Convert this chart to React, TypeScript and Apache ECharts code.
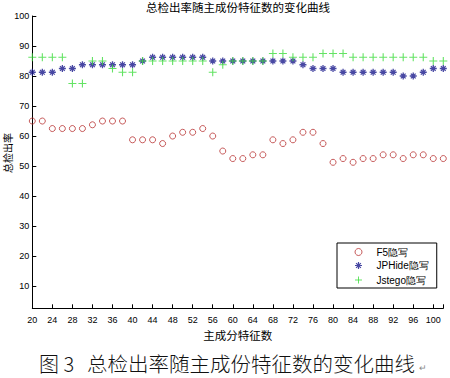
import React, { useEffect, useRef } from "react";
import * as echarts from "echarts";

// Number of principal-component features (x)
const featureCounts = [
  20, 22, 24, 26, 28, 30, 32, 34, 36, 38, 40, 42, 44, 46, 48, 50, 52, 54, 56, 58, 60,
  62, 64, 66, 68, 70, 72, 74, 76, 78, 80, 82, 84, 86, 88, 90, 92, 94, 96, 98, 100, 102,
];

// Overall detection rate (%) per steganography method
const f5Rates = [
  65, 65, 62.5, 62.5, 62.5, 62.5, 63.75, 65, 65, 65, 58.75, 58.75, 58.75, 57.5, 60, 61.25,
  61.25, 62.5, 60, 55, 52.5, 52.5, 53.75, 53.75, 58.75, 57.5, 58.75, 61.25, 61.25, 57.5,
  51.25, 52.5, 51.25, 52.5, 52.5, 53.75, 53.75, 52.5, 53.75, 53.75, 52.5, 52.5,
];
const jphideRates = [
  81.25, 81.25, 81.25, 82.5, 82.5, 83.75, 83.75, 83.75, 83.75, 83.75, 83.75, 85, 86.25,
  86.25, 86.25, 86.25, 86.25, 86.25, 85, 85, 85, 85, 85, 85, 85, 85, 85, 83.75, 82.5, 82.5,
  82.5, 81.25, 81.25, 81.25, 81.25, 81.25, 81.25, 80, 80, 81.25, 82.5, 82.5,
];
const jstegoRates = [
  86.25, 86.25, 86.25, 86.25, 77.5, 77.5, 85, 85, 82.5, 81.25, 81.25, 85, 85, 85, 85, 85,
  85, 85, 81.25, 83.75, 85, 85, 85, 85, 87.5, 87.5, 86.25, 86.25, 86.25, 87.5, 87.5, 87.5,
  86.25, 86.25, 86.25, 86.25, 86.25, 86.25, 86.25, 86.25, 85, 85,
];

const seriesNames = ["F5隐写", "JPHide隐写", "Jstego隐写"];
const xTickLabels = [20, 24, 28, 32, 36, 40, 44, 48, 52, 56, 60, 64, 68, 72, 76, 80, 84, 88, 92, 96, 100];
const xTickMarks = [...xTickLabels, 102];
const yTickLabels = [10, 20, 30, 40, 50, 60, 70, 80, 90, 100];

const titleText = "总检出率随主成份特征数的变化曲线";
const xAxisName = "主成分特征数";
const yAxisName = "总检出率";
const captionPrefix = "图 3";
const captionText = "总检出率随主成份特征数的变化曲线";

const PLUS = "path://M5,0L5,10M0,5L10,5";
const STAR = "path://M5,0L5,10M0,5L10,5M1.6,1.6L8.4,8.4M1.6,8.4L8.4,1.6";

const RED = "#b83232";
const BLUE = "#1a1a8c";
const GREEN = "#3ddc3d";
const AXIS_FONT = "'Liberation Sans', Arial, sans-serif";
const CJK_FONT = "'Noto Sans CJK SC', sans-serif";

export default function App() {
  const ref = useRef<HTMLDivElement>(null);

  useEffect(() => {
    if (!ref.current) return;
    const chart = echarts.init(ref.current, undefined, { renderer: "svg" });
    const pair = (vals: number[]) => featureCounts.map((x, i) => [x, vals[i]]);

    chart.setOption({
      animation: false,
      backgroundColor: "#fff",
      title: {
        text: titleText,
        left: 146,
        top: 1,
        padding: 0,
        textStyle: { fontSize: 11.5, fontWeight: "normal", color: "#000", fontFamily: CJK_FONT },
      },
      grid: {
        left: 32.3,
        right: 6.7,
        top: 16,
        bottom: 69.7,
        containLabel: false,
        outerBoundsMode: "none",
      },
      xAxis: {
        type: "value",
        min: 20,
        max: 102,
        name: xAxisName,
        nameLocation: "middle",
        nameGap: 19,
        nameTextStyle: { fontSize: 11.5, color: "#000", fontFamily: CJK_FONT },
        axisLine: { show: true, lineStyle: { color: "#000", width: 1 } },
        axisTick: { show: true, inside: true, length: 4, customValues: xTickMarks, lineStyle: { color: "#000" } },
        axisLabel: {
          customValues: xTickLabels,
          fontSize: 9,
          color: "#000",
          fontFamily: AXIS_FONT,
          margin: 7,
        },
        splitLine: { show: false },
      },
      yAxis: {
        type: "value",
        min: 2.6,
        max: 100,
        axisLine: { show: true, lineStyle: { color: "#000", width: 1 } },
        axisTick: { show: true, inside: true, length: 4, customValues: yTickLabels, lineStyle: { color: "#000" } },
        axisLabel: {
          customValues: yTickLabels,
          fontSize: 9,
          color: "#000",
          fontFamily: AXIS_FONT,
          margin: 3,
        },
        splitLine: { show: false },
      },
      legend: {
        orient: "vertical",
        left: 337,
        top: 243,
        padding: [4, 8, 2, 15.5],
        itemWidth: 7,
        itemHeight: 7,
        itemGap: 2.5,
        borderColor: "#000",
        borderWidth: 1,
        backgroundColor: "#fff",
        borderRadius: 0,
        textStyle: { fontSize: 10, color: "#000", fontFamily: AXIS_FONT, padding: [0, 0, 0, 9.5] },
        data: [
          { name: seriesNames[0], itemStyle: { borderWidth: 1 } },
          { name: seriesNames[1], itemStyle: { borderWidth: 1.2 } },
          { name: seriesNames[2], itemStyle: { borderWidth: 1 } },
        ],
      },
      series: [
        {
          name: seriesNames[0],
          type: "scatter",
          symbol: "circle",
          symbolSize: 6,
          itemStyle: { color: "rgba(255,255,255,0)", borderColor: RED, borderWidth: 1 },
          data: pair(f5Rates),
        },
        {
          name: seriesNames[1],
          type: "scatter",
          symbol: STAR,
          symbolSize: 7,
          symbolKeepAspect: true,
          itemStyle: { color: "none", borderColor: BLUE, borderWidth: 1.3 },
          data: pair(jphideRates),
        },
        {
          name: seriesNames[2],
          type: "scatter",
          symbol: PLUS,
          symbolSize: 8,
          symbolKeepAspect: true,
          itemStyle: { color: "none", borderColor: GREEN, borderWidth: 1.1 },
          data: pair(jstegoRates),
        },
      ],
      graphic: [
        {
          type: "text",
          x: 7,
          y: 153,
          rotation: Math.PI / 2,
          style: {
            text: yAxisName,
            fontSize: 10,
            fontFamily: CJK_FONT,
            fill: "#000",
            align: "center",
            verticalAlign: "middle",
          },
        },
        {
          type: "text",
          x: 39,
          y: 363,
          style: {
            text: captionPrefix,
            fontSize: 20,
            fontWeight: 300,
            fontFamily: CJK_FONT,
            fill: "#111",
            align: "left",
            verticalAlign: "middle",
          },
        },
        {
          type: "text",
          x: 87,
          y: 363,
          style: {
            text: captionText,
            fontSize: 20.5,
            fontWeight: 300,
            fontFamily: CJK_FONT,
            fill: "#111",
            align: "left",
            verticalAlign: "middle",
          },
        },
        {
          type: "text",
          x: 419,
          y: 368,
          style: {
            text: "↵",
            fontSize: 9,
            fontFamily: AXIS_FONT,
            fill: "#888",
            align: "left",
            verticalAlign: "middle",
          },
        },
      ],
    });

    return () => chart.dispose();
  }, []);

  return (
    <div
      ref={ref}
      style={{ position: "fixed", left: 0, top: 0, width: 450, height: 378, background: "#fff" }}
    />
  );
}
